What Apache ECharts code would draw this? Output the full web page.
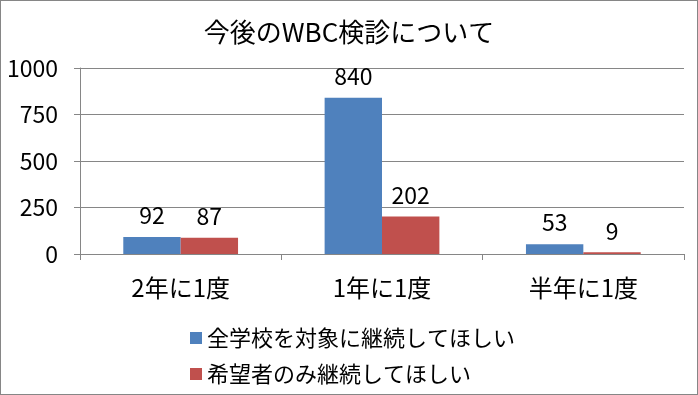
<!DOCTYPE html>
<html>
<head>
<meta charset="utf-8">
<script src="https://cdn.jsdelivr.net/npm/echarts@6/dist/echarts.min.js"></script>
<style>
  html, body { margin: 0; padding: 0; background: #fff; }
  #main { width: 696px; height: 393px; border: 1px solid #868686; }
</style>
</head>
<body>
<div id="main"></div>
<script>
const categories = ['2年に1度', '1年に1度', '半年に1度'];
const seriesNames = ['全学校を対象に継続してほしい', '希望者のみ継続してほしい'];
const allSchools = [92, 840, 53];
const applicantsOnly = [87, 202, 9];
const yTicks = [0, 250, 500, 750, 1000];

const font = '"Noto Sans CJK JP", "Noto Sans", sans-serif';
const chart = echarts.init(document.getElementById('main'), null, { renderer: 'canvas' });

const labelStyle = {
  show: true,
  position: 'top',
  distance: 10,
  color: '#000',
  fontSize: 23,
  fontFamily: font
};

chart.setOption({
  animation: false,
  textStyle: { fontFamily: font },
  title: {
    text: '今後のWBC検診について',
    left: 'center',
    top: 13,
    textStyle: { fontSize: 26, fontWeight: 'normal', color: '#000', fontFamily: font }
  },
  legend: {
    orient: 'vertical',
    left: 184,
    top: 321,
    itemWidth: 12,
    itemHeight: 12,
    itemGap: 14,
    icon: 'rect',
    textStyle: { fontSize: 22, color: '#000', fontFamily: font },
    data: seriesNames
  },
  grid: { left: 79, right: 13, top: 67, bottom: 140, containLabel: false },
  xAxis: {
    type: 'category',
    data: categories,
    axisLine: { lineStyle: { color: '#868686' } },
    axisTick: { show: true, alignWithLabel: false, length: 6, lineStyle: { color: '#868686' } },
    axisLabel: { fontSize: 24, color: '#000', margin: 22, fontFamily: font }
  },
  yAxis: {
    type: 'value',
    min: yTicks[0],
    max: yTicks[yTicks.length - 1],
    interval: 250,
    axisLine: { show: true, lineStyle: { color: '#868686' } },
    axisTick: { show: true, length: 6, lineStyle: { color: '#868686' } },
    splitLine: { lineStyle: { color: '#868686' } },
    axisLabel: { fontSize: 23, color: '#000', margin: 22, fontFamily: font, formatter: v => String(v) }
  },
  series: [
    {
      name: seriesNames[0],
      type: 'bar',
      data: allSchools,
      itemStyle: { color: '#4F81BD' },
      barGap: '0%',
      barCategoryGap: '43%',
      label: labelStyle
    },
    {
      name: seriesNames[1],
      type: 'bar',
      data: applicantsOnly,
      itemStyle: { color: '#C0504D' },
      label: labelStyle
    }
  ]
});
</script>
</body>
</html>
